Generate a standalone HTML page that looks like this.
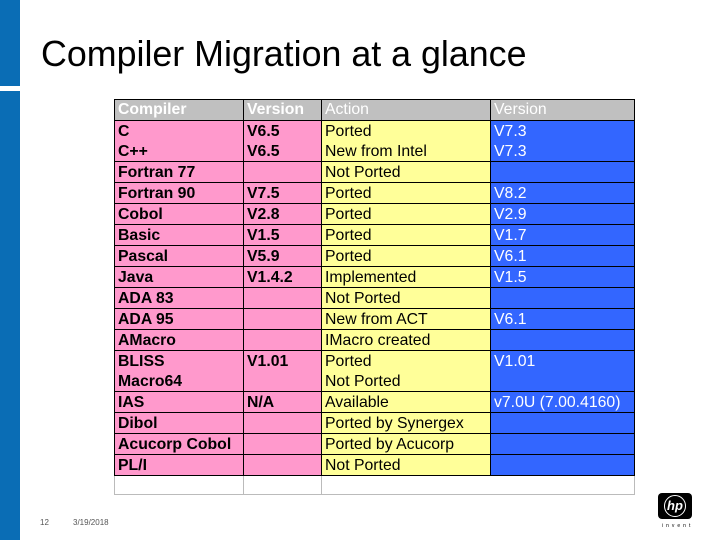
<!DOCTYPE html>
<html><head><meta charset="utf-8">
<style>
body{margin:0;width:720px;height:540px;position:relative;background:#fff;font-family:"Liberation Sans",Arial,sans-serif;overflow:hidden}
#bar1{position:absolute;left:0;top:0;width:20px;height:86px;background:#0a6db5}
#bar2{position:absolute;left:0;top:91px;width:20px;height:449px;background:#0a6db5}
#title{position:absolute;left:41px;top:34px;font-size:35.8px;color:#000;white-space:nowrap}
table{position:absolute;left:114px;top:99px;border-collapse:collapse;table-layout:fixed;width:520px}
td{height:20px;padding:0 0 0 3px;font-size:15.8px;line-height:19px;border:1px solid #000;white-space:nowrap;overflow:hidden}
tr.nb td{border-bottom:none}
tr.nt td{border-top:none}
th{height:20px;padding:0 0 0 3px;font-size:15.8px;text-align:left;color:#fff;background:#c0c0c0;border:1px solid #000;font-weight:normal}
th.b{font-weight:bold}
td.c1,td.c2{background:#ff99cc;font-weight:bold}
td.c3{background:#ffff99}
td.c4{background:#3366ff;color:#fff}
tr.empty td{background:#fff;border:1px solid #bbb;height:18px}
#foot-num{position:absolute;left:40px;top:518px;font-size:8px;color:#555}
#foot-date{position:absolute;left:73px;top:518px;font-size:8px;color:#555}
#logo{position:absolute;left:658px;top:493px;width:34px;height:26px;background:#000;border-radius:4px}
#logo span{position:absolute;left:6px;top:2px;width:20px;height:20px;border:1.5px solid #fff;border-radius:50%;color:#fff;font-size:13px;font-style:italic;font-weight:bold;text-align:center;line-height:20px}
#invent{position:absolute;left:662px;top:523px;font-size:5px;letter-spacing:3px;color:#000}
</style></head><body>
<div id="bar1"></div>
<div id="bar2"></div>
<div id="title">Compiler Migration at a glance</div>
<table>
<colgroup><col style="width:129px"><col style="width:78px"><col style="width:169px"><col style="width:144px"></colgroup>
<tr><th class="b">Compiler</th><th class="b">Version</th><th>Action</th><th>Version</th></tr>
<tr class="nb"><td class="c1">C</td><td class="c2">V6.5</td><td class="c3">Ported</td><td class="c4">V7.3</td></tr>
<tr class="nt"><td class="c1">C++</td><td class="c2">V6.5</td><td class="c3">New from Intel</td><td class="c4">V7.3</td></tr>
<tr><td class="c1">Fortran 77</td><td class="c2"></td><td class="c3">Not Ported</td><td class="c4"></td></tr>
<tr><td class="c1">Fortran 90</td><td class="c2">V7.5</td><td class="c3">Ported</td><td class="c4">V8.2</td></tr>
<tr><td class="c1">Cobol</td><td class="c2">V2.8</td><td class="c3">Ported</td><td class="c4">V2.9</td></tr>
<tr><td class="c1">Basic</td><td class="c2">V1.5</td><td class="c3">Ported</td><td class="c4">V1.7</td></tr>
<tr><td class="c1">Pascal</td><td class="c2">V5.9</td><td class="c3">Ported</td><td class="c4">V6.1</td></tr>
<tr><td class="c1">Java</td><td class="c2">V1.4.2</td><td class="c3">Implemented</td><td class="c4">V1.5</td></tr>
<tr><td class="c1">ADA 83</td><td class="c2"></td><td class="c3">Not Ported</td><td class="c4"></td></tr>
<tr><td class="c1">ADA 95</td><td class="c2"></td><td class="c3">New from ACT</td><td class="c4">V6.1</td></tr>
<tr><td class="c1">AMacro</td><td class="c2"></td><td class="c3">IMacro created</td><td class="c4"></td></tr>
<tr class="nb"><td class="c1">BLISS</td><td class="c2">V1.01</td><td class="c3">Ported</td><td class="c4">V1.01</td></tr>
<tr class="nt"><td class="c1">Macro64</td><td class="c2"></td><td class="c3">Not Ported</td><td class="c4"></td></tr>
<tr><td class="c1">IAS</td><td class="c2">N/A</td><td class="c3">Available</td><td class="c4">v7.0U (7.00.4160)</td></tr>
<tr><td class="c1">Dibol</td><td class="c2"></td><td class="c3">Ported by Synergex</td><td class="c4"></td></tr>
<tr><td class="c1">Acucorp Cobol</td><td class="c2"></td><td class="c3">Ported by Acucorp</td><td class="c4"></td></tr>
<tr><td class="c1">PL/I</td><td class="c2"></td><td class="c3">Not Ported</td><td class="c4"></td></tr>
<tr class="empty"><td></td><td></td><td colspan="2"></td></tr>
</table>
<div id="foot-num">12</div>
<div id="foot-date">3/19/2018</div>
<div id="logo"><span>hp</span></div>
<div id="invent">invent</div>
</body></html>
